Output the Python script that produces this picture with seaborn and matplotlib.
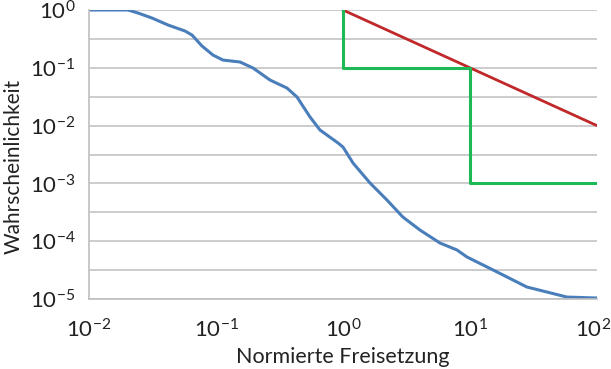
import numpy as np
import pandas as pd
import matplotlib
matplotlib.use("Agg")
import matplotlib.pyplot as plt
import matplotlib.transforms as mtransforms
import seaborn as sns

# (log-log)
release = [0.01, 0.0203, 0.0243, 0.0313, 0.0419, 0.057, 0.0647, 0.0776, 0.0947, 0.1135,
           0.1545, 0.1955, 0.266, 0.362, 0.434, 0.55, 0.659, 0.914, 1.0, 1.2,
           1.63, 2.22, 2.96, 4.04, 5.8, 7.9, 9.47, 15.2, 28.1, 40.4,
           58.0, 100]
probability = [1.0, 1.0, 0.887, 0.727, 0.55, 0.433, 0.369, 0.238, 0.166, 0.136,
               0.126, 0.0993, 0.0615, 0.0447, 0.0313, 0.0141, 0.00839, 0.005, 0.00426, 0.00225,
               0.00102, 5.16e-4, 2.62e-4, 1.56e-4, 9.31e-5, 7.05e-5, 5.33e-5, 3.18e-5, 1.61e-5, 1.32e-5,
               1.08e-5, 1.04e-5]

red_x = [1, 100]
red_y = [1, 0.01]
green_x = [1, 1, 10, 10, 100]
green_y = [1, 0.1, 0.1, 0.001, 0.001]

x_ticks = [0.01, 0.1, 1, 10, 100]
x_labels = ["$\\mathregular{10^{-2}}$", "$\\mathregular{10^{-1}}$", "$\\mathregular{10^{0}}$",
            "$\\mathregular{10^{1}}$", "$\\mathregular{10^{2}}$"]
y_labels = ["$\\mathregular{10^{-5}}$", "$\\mathregular{10^{-4}}$", "$\\mathregular{10^{-3}}$",
            "$\\mathregular{10^{-2}}$", "$\\mathregular{10^{-1}}$", "$\\mathregular{10^{0}}$"]

sns.set_style("white")
plt.rcParams['font.family'] = ['Lato', 'DejaVu Sans']

fig = plt.figure(figsize=(6.11, 3.69), dpi=100)
ax = fig.add_axes([0.1457, 0.1897, 0.977 - 0.1457, 0.9729 - 0.1897])

df = pd.DataFrame({"x": release, "y": probability})
sns.lineplot(data=df, x="x", y="y", ax=ax, color="#4A7EBB", linewidth=2.2, sort=False)
ax.plot(red_x, red_y, color="#C0282A", linewidth=2.0)
ax.plot(green_x, green_y, color="#1DB954", linewidth=2.2)

ax.set_xscale("log")
ax.set_yscale("log")
ax.set_xlim(0.01, 100)
ax.set_ylim(1e-5, 1)

# gridlines at every decade and half decade
grid_y = [10 ** (-k / 2) for k in range(0, 11)]
ax.set_yticks(grid_y)
ax.set_yticklabels([y_labels[5 - k // 2] if k % 2 == 0 else "" for k in range(0, 11)])
ax.yaxis.set_minor_locator(matplotlib.ticker.NullLocator())
ax.set_xticks(x_ticks)
ax.set_xticklabels(x_labels)
ax.xaxis.set_minor_locator(matplotlib.ticker.NullLocator())

ax.grid(axis="y", color="#C8C8C8", linewidth=1.3)
ax.set_axisbelow(True)
for side in ["top", "right"]:
    ax.spines[side].set_visible(False)
for side in ["left", "bottom"]:
    ax.spines[side].set_color("#BFBFBF")
    ax.spines[side].set_linewidth(1.2)
ax.tick_params(axis="both", which="major", length=5, width=1.2, color="#BFBFBF",
               labelsize=16, labelcolor="#222222", direction="out")
ax.tick_params(axis="x", pad=9)
ax.tick_params(axis="y", pad=5)

# keep the last x label inside the picture
last = ax.get_xticklabels()[-1]
last.set_transform(last.get_transform() + mtransforms.ScaledTranslation(-4 / 100, 0, fig.dpi_scale_trans))

ax.set_xlabel("Normierte Freisetzung", fontsize=15.5, color="#222222", labelpad=4)
ax.set_ylabel("Wahrscheinlichkeit", fontsize=15, color="#222222")
ax.yaxis.set_label_coords(-0.128, 0.46)

fig.savefig("out.png", dpi=100)
